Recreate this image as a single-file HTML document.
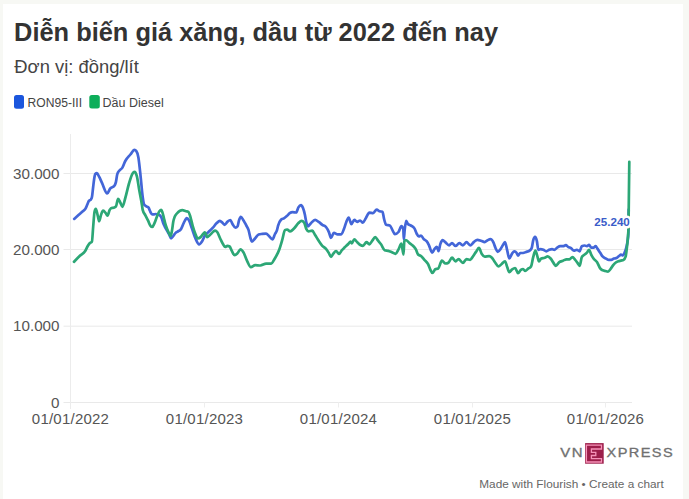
<!DOCTYPE html>
<html><head><meta charset="utf-8"><title>Diễn biến giá xăng, dầu từ 2022 đến nay</title>
<style>
html,body{margin:0;padding:0;background:#f7f8f4;}
body{width:689px;height:499px;overflow:hidden;position:relative;}
.card{position:absolute;left:3px;top:4px;width:680px;height:495px;background:#fff;}
svg{position:absolute;left:0;top:0;}
text{font-family:'Liberation Sans', sans-serif;}
.ax{font-size:15.2px;fill:#555;}
.xa{font-size:15px;letter-spacing:0.22px;fill:#555;}
</style></head><body>
<div class="card"></div>
<svg width="689" height="499" viewBox="0 0 689 499">
<text x="14.1" y="40.9" font-size="25.4" font-weight="bold" fill="#333">Diễn biến giá xăng, dầu từ 2022 đến nay</text>
<text x="14.3" y="72.8" font-size="18.4" fill="#444">Đơn vị: đồng/lít</text>
<rect x="14" y="95.1" width="10" height="13.7" rx="2.5" fill="#1b56dd"/>
<text x="27.6" y="106.6" font-size="12.1" fill="#444">RON95-III</text>
<rect x="89.3" y="95.1" width="10.5" height="13.5" rx="2.5" fill="#0dae5a"/>
<text x="102.6" y="106.6" font-size="12.5" fill="#444">Dầu Diesel</text>
<line x1="63.5" y1="173.5" x2="632" y2="173.5" stroke="#e9e9e9" stroke-width="1"/><line x1="63.5" y1="249.5" x2="632" y2="249.5" stroke="#e9e9e9" stroke-width="1"/><line x1="63.5" y1="326.2" x2="632" y2="326.2" stroke="#e9e9e9" stroke-width="1"/><line x1="63.5" y1="402.5" x2="632" y2="402.5" stroke="#e9e9e9" stroke-width="1"/><line x1="70.5" y1="134" x2="70.5" y2="409" stroke="#ececec" stroke-width="1"/><line x1="204.5" y1="402.5" x2="204.5" y2="407.5" stroke="#eeeeee" stroke-width="1"/><line x1="338.5" y1="402.5" x2="338.5" y2="407.5" stroke="#eeeeee" stroke-width="1"/><line x1="472.5" y1="402.5" x2="472.5" y2="407.5" stroke="#eeeeee" stroke-width="1"/><line x1="605.5" y1="402.5" x2="605.5" y2="407.5" stroke="#eeeeee" stroke-width="1"/>
<text x="59.5" y="178.7" text-anchor="end" class="ax">30.000</text><text x="59.5" y="254.7" text-anchor="end" class="ax">20.000</text><text x="59.5" y="331.4" text-anchor="end" class="ax">10.000</text><text x="59.5" y="407.7" text-anchor="end" class="ax">0</text>
<text x="70.5" y="423.9" text-anchor="middle" class="xa">01/01/2022</text><text x="204.5" y="423.9" text-anchor="middle" class="xa">01/01/2023</text><text x="338.5" y="423.9" text-anchor="middle" class="xa">01/01/2024</text><text x="472.5" y="423.9" text-anchor="middle" class="xa">01/01/2025</text><text x="605.5" y="423.9" text-anchor="middle" class="xa">01/01/2026</text>
<path d="M74.2,218.9C75.63,217.63 77.07,216.37 78.5,215.1C79.93,213.83 81.37,212.67 82.8,211.3C83.70,210.44 84.60,210.18 85.5,208.6C86.07,207.60 86.63,206.11 87.2,204.8C87.73,203.57 88.27,201.81 88.8,201C89.50,199.93 90.20,200.47 90.9,199.4C91.27,198.84 91.63,198.50 92,196.7C92.37,194.90 92.73,190.48 93.1,187.5C93.47,184.52 93.83,181.05 94.2,178.8C94.57,176.55 94.93,174.37 95.3,174C95.83,173.47 96.37,173.20 96.9,173.2C97.63,173.20 98.37,175.35 99.1,176.7C100.10,178.53 101.10,181.09 102.1,183.2C103.80,186.79 105.50,193.50 107.2,193.5C108.17,193.50 109.13,189.84 110.1,188.6C111.53,186.76 112.97,187.63 114.4,185.7C114.90,185.03 115.40,184.16 115.9,182.1C116.37,180.18 116.83,175.63 117.3,174.1C118.03,171.70 118.77,171.50 119.5,170.5C120.47,169.18 121.43,169.18 122.4,167.6C123.37,166.02 124.33,162.85 125.3,161C127.00,157.75 128.70,156.55 130.4,154.5C131.77,152.86 133.13,149.80 134.5,149.8C135.07,149.80 135.63,150.17 136.2,150.9C136.93,151.85 137.67,153.17 138.4,157.4C139.13,161.63 139.87,169.52 140.6,176.3C141.30,182.77 142.00,191.99 142.7,197C143.17,200.34 143.63,203.74 144.1,204.5C144.83,205.70 145.57,205.78 146.3,206.3C147.07,206.85 147.83,206.77 148.6,207.7C149.03,208.23 149.47,209.88 149.9,210.8C150.50,212.08 151.10,213.73 151.7,214C152.30,214.27 152.90,214.40 153.5,214.4C154.27,214.40 155.03,214.00 155.8,214C156.53,214.00 157.27,214.14 158,214.4C158.60,214.61 159.20,214.70 159.8,215.3C160.40,215.90 161.00,216.52 161.6,218C162.07,219.15 162.53,221.19 163,222.5C163.60,224.18 164.20,225.36 164.8,226.6C165.53,228.12 166.27,229.28 167,230.6C167.77,231.98 168.53,233.24 169.3,234.7C169.90,235.84 170.50,238.30 171.1,238.3C171.83,238.30 172.57,236.88 173.3,236C174.07,235.09 174.83,233.65 175.6,232.9C176.33,232.18 177.07,231.95 177.8,231.5C178.53,231.05 179.27,230.89 180,230.2C180.33,229.89 180.67,229.56 181,229.1C181.97,227.75 182.93,224.42 183.9,222.6C184.87,220.78 185.83,218.20 186.8,218.2C187.53,218.20 188.27,219.11 189,220.4C189.97,222.10 190.93,225.71 191.9,228.4C193.10,231.74 194.30,235.85 195.5,238.5C196.70,241.15 197.90,244.30 199.1,244.3C200.07,244.30 201.03,242.85 202,241.4C202.97,239.95 203.93,237.10 204.9,235.6C206.10,233.74 207.30,233.19 208.5,232C209.97,230.55 211.43,229.33 212.9,227.7C214.10,226.37 215.30,224.47 216.5,223.3C217.63,222.20 218.77,220.80 219.9,220.8C220.70,220.80 221.50,221.90 222.3,222.6C223.03,223.25 223.77,224.80 224.5,224.8C225.47,224.80 226.43,222.70 227.4,221.9C228.37,221.10 229.33,220.00 230.3,220C231.03,220.00 231.77,222.84 232.5,224C233.47,225.53 234.43,227.70 235.4,227.7C236.13,227.70 236.87,227.20 237.6,226.2C238.07,225.56 238.53,221.90 239,220.4C239.60,218.48 240.20,216.80 240.8,216.8C241.67,216.80 242.53,218.85 243.4,220.2C244.37,221.70 245.33,223.66 246.3,225.5C247.03,226.89 247.77,227.55 248.5,229.8C249.20,231.95 249.90,236.33 250.6,238.5C251.03,239.85 251.47,241.70 251.9,241.7C252.93,241.70 253.97,239.60 255,238.5C256.20,237.22 257.40,234.90 258.6,234.5C259.80,234.10 261.00,234.05 262.2,233.9C263.50,233.74 264.80,233.60 266.1,233.6C267.07,233.60 268.03,235.14 269,236C270.17,237.04 271.33,239.40 272.5,239.4C273.33,239.40 274.17,235.68 275,234C275.67,232.66 276.33,232.45 277,230.2C277.37,228.96 277.73,226.91 278.1,225.6C279.07,222.14 280.03,220.80 281,219.8C281.97,218.80 282.93,218.92 283.9,218.3C284.87,217.68 285.83,216.95 286.8,216.1C287.77,215.25 288.73,213.87 289.7,213.2C290.67,212.53 291.63,212.10 292.6,212.1C293.80,212.10 295.00,212.50 296.2,212.5C296.93,212.50 297.67,208.61 298.4,207.4C299.27,205.98 300.13,205.20 301,205.2C301.67,205.20 302.33,206.44 303,208.1C303.63,209.68 304.27,211.84 304.9,214.7C305.40,216.96 305.90,220.75 306.4,222.7C306.87,224.52 307.33,226.30 307.8,226.3C308.77,226.30 309.73,224.30 310.7,223.4C312.17,222.04 313.63,219.80 315.1,219.8C316.30,219.80 317.50,221.07 318.7,221.9C319.90,222.73 321.10,223.96 322.3,224.8C323.53,225.67 324.77,225.53 326,227C326.97,228.15 327.93,229.84 328.9,232.1C329.60,233.74 330.30,237.90 331,237.9C331.97,237.90 332.93,232.80 333.9,232.8C335.13,232.80 336.37,234.30 337.6,234.3C338.80,234.30 340.00,234.30 341.2,234.3C342.17,234.30 343.13,230.98 344.1,228.5C344.83,226.62 345.57,223.68 346.3,221.9C347.10,219.96 347.90,217.60 348.7,217.6C349.60,217.60 350.50,224.10 351.4,224.1C352.37,224.10 353.33,219.80 354.3,219.8C355.27,219.80 356.23,221.90 357.2,221.9C358.17,221.90 359.13,220.50 360.1,220.5C361.03,220.50 361.97,222.60 362.9,222.6C363.87,222.60 364.83,219.67 365.8,218.2C367.00,216.37 368.20,212.70 369.4,212.7C370.63,212.70 371.87,213.10 373.1,213.1C374.30,213.10 375.50,209.50 376.7,209.5C377.67,209.50 378.63,211.03 379.6,211.3C380.57,211.57 381.53,211.43 382.5,211.7C382.97,211.83 383.43,216.33 383.9,218.2C384.63,221.14 385.37,224.52 386.1,224.8C387.33,225.27 388.57,225.03 389.8,225.5C390.77,225.87 391.73,228.92 392.7,230.6C393.40,231.81 394.10,234.20 394.8,234.2C396.03,234.20 397.27,233.47 398.5,232C399.47,230.85 400.43,226.20 401.4,226.2C402.03,226.20 402.67,227.17 403.3,229.1C403.47,229.61 403.63,239.30 403.8,239.3C404.10,239.30 404.40,232.45 404.7,229.8C405.20,225.38 405.70,220.80 406.2,220.8C406.77,220.80 407.33,223.41 407.9,224C408.87,225.00 409.83,224.88 410.8,225.5C412.00,226.28 413.20,226.47 414.4,228.4C415.13,229.58 415.87,232.17 416.6,233.5C417.33,234.83 418.07,236.40 418.8,236.4C419.53,236.40 420.27,235.60 421,235.6C421.97,235.60 422.93,238.33 423.9,239.3C424.87,240.27 425.83,240.12 426.8,241.4C427.50,242.33 428.20,243.71 428.9,245.1C429.97,247.23 431.03,252.60 432.1,252.6C432.93,252.60 433.77,249.90 434.6,248.9C435.33,248.02 436.07,246.80 436.8,246.8C437.37,246.80 437.93,251.10 438.5,251.1C439.13,251.10 439.77,245.68 440.4,243.9C441.13,241.84 441.87,240.20 442.6,240.2C443.57,240.20 444.53,241.65 445.5,242.4C446.70,243.34 447.90,245.30 449.1,245.3C450.07,245.30 451.03,243.10 452,243.1C453.20,243.10 454.40,246.00 455.6,246C456.83,246.00 458.07,243.10 459.3,243.1C460.50,243.10 461.70,245.30 462.9,245.3C464.10,245.30 465.30,242.10 466.5,242.1C467.73,242.10 468.97,245.30 470.2,245.3C471.40,245.30 472.60,243.02 473.8,242.1C475.00,241.18 476.20,239.80 477.4,239.8C478.60,239.80 479.80,240.32 481,240.7C482.23,241.09 483.47,242.10 484.7,242.1C485.67,242.10 486.63,240.68 487.6,240.2C488.57,239.72 489.53,239.20 490.5,239.2C491.47,239.20 492.43,240.49 493.4,242.4C494.13,243.85 494.87,246.59 495.6,248.2C496.30,249.73 497.00,251.90 497.7,251.9C498.67,251.90 499.63,250.34 500.6,249C501.33,247.98 502.07,246.45 502.8,245.3C503.53,244.15 504.27,242.10 505,242.1C505.73,242.10 506.47,247.62 507.2,250.4C507.90,253.05 508.60,258.40 509.3,258.4C510.27,258.40 511.23,254.53 512.2,253.3C512.93,252.36 513.67,251.30 514.4,251.3C515.10,251.30 515.80,251.77 516.5,252.7C517.00,253.37 517.50,255.60 518,255.6C518.73,255.60 519.47,253.00 520.2,253C521.17,253.00 522.13,253.00 523.1,253C524.07,253.00 525.03,252.35 526,252C527.20,251.56 528.40,251.53 529.6,250.6C530.33,250.03 531.07,249.63 531.8,247.7C532.27,246.47 532.73,242.18 533.2,240.4C533.80,238.12 534.40,236.80 535,236.8C535.63,236.80 536.27,238.23 536.9,241.1C537.37,243.21 537.83,249.80 538.3,249.8C539.03,249.80 539.77,249.10 540.5,249.1C541.47,249.10 542.43,249.43 543.4,249.8C544.37,250.17 545.33,251.30 546.3,251.3C547.27,251.30 548.23,250.17 549.2,249.8C550.17,249.43 551.13,249.10 552.1,249.1C552.83,249.10 553.57,249.80 554.3,249.8C555.27,249.80 556.23,248.30 557.2,247.7C558.17,247.10 559.13,246.20 560.1,246.2C561.07,246.20 562.03,246.20 563,246.2C563.97,246.20 564.93,245.20 565.9,245.2C566.63,245.20 567.37,246.45 568.1,246.9C569.07,247.50 570.03,247.48 571,248.1C571.97,248.72 572.93,250.60 573.9,250.6C574.87,250.60 575.83,249.80 576.8,249.8C577.77,249.80 578.73,251.30 579.7,251.3C580.40,251.30 581.10,246.54 581.8,246.2C582.77,245.73 583.73,245.50 584.7,245.5C585.43,245.50 586.17,246.20 586.9,246.2C587.63,246.20 588.37,244.80 589.1,244.8C589.83,244.80 590.57,247.70 591.3,247.7C592.03,247.70 592.77,247.70 593.5,247.7C594.20,247.70 594.90,246.20 595.6,246.2C596.27,246.20 596.93,247.96 597.6,248.9C598.47,250.13 599.33,251.50 600.2,252.8C601.07,254.10 601.93,255.75 602.8,256.7C603.90,257.90 605.00,258.01 606.1,258.6C606.97,259.06 607.83,259.90 608.7,259.9C609.57,259.90 610.43,259.90 611.3,259.9C612.17,259.90 613.03,258.92 613.9,258.6C614.77,258.28 615.63,258.40 616.5,258C617.37,257.60 618.23,256.62 619.1,256C619.73,255.54 620.37,254.70 621,254.7C621.67,254.70 622.33,255.40 623,255.4C623.43,255.40 623.87,254.30 624.3,253.4C624.97,252.02 625.63,250.41 626.3,247.6C626.73,245.77 627.17,244.39 627.6,241C627.83,239.18 628.07,238.83 628.3,234.5C628.43,232.02 628.57,220.81 628.7,209.6" fill="none" stroke="#4366d8" stroke-width="2.7" stroke-linejoin="round" stroke-linecap="round"/>
<path d="M74,261.8C75.97,259.74 77.93,257.68 79.9,255.8C81.67,254.11 83.43,253.84 85.2,251C86.10,249.55 87.00,247.15 87.9,245.7C88.57,244.63 89.23,243.67 89.9,243C90.57,242.33 91.23,242.57 91.9,241.7C92.33,241.14 92.77,231.47 93.2,226.5C93.63,221.53 94.07,213.97 94.5,211.9C94.93,209.83 95.37,208.80 95.8,208.8C96.47,208.80 97.13,213.44 97.8,215.9C98.27,217.62 98.73,221.20 99.2,221.2C99.83,221.20 100.47,216.35 101.1,214.6C101.77,212.76 102.43,210.60 103.1,210.6C104.00,210.60 104.90,212.09 105.8,213.2C106.37,213.90 106.93,215.60 107.5,215.6C108.23,215.60 108.97,211.18 109.7,209.9C110.47,208.57 111.23,207.90 112,207.9C112.33,207.90 112.67,207.90 113,207.9C113.97,207.90 114.93,207.43 115.9,206.5C116.63,205.79 117.37,198.80 118.1,198.8C118.90,198.80 119.70,201.49 120.5,203C121.13,204.20 121.77,206.80 122.4,206.8C123.37,206.80 124.33,201.31 125.3,198C126.53,193.78 127.77,187.64 129,183.5C130.20,179.47 131.40,175.18 132.6,173.4C133.23,172.46 133.87,171.90 134.5,171.9C135.30,171.90 136.10,173.37 136.9,176.3C137.63,178.99 138.37,185.09 139.1,189.3C140.07,194.85 141.03,199.15 142,205.3C142.23,206.79 142.47,208.97 142.7,209.9C143.60,213.50 144.50,213.50 145.4,215.3C146.30,217.10 147.20,218.82 148.1,220.7C148.87,222.31 149.63,224.66 150.4,225.7C151.00,226.52 151.60,227.00 152.2,227C152.93,227.00 153.67,224.94 154.4,223.4C155.30,221.51 156.20,218.34 157.1,216.2C157.87,214.38 158.63,212.35 159.4,211.3C160.00,210.48 160.60,209.90 161.2,209.9C161.63,209.90 162.07,211.33 162.5,212.6C162.97,213.97 163.43,216.13 163.9,218C164.33,219.74 164.77,221.81 165.2,223.4C165.80,225.60 166.40,227.22 167,228.8C167.77,230.82 168.53,232.37 169.3,233.8C169.73,234.61 170.17,236.00 170.6,236C171.07,236.00 171.53,233.14 172,230.6C172.43,228.24 172.87,223.89 173.3,221.6C173.77,219.14 174.23,217.96 174.7,216.7C175.43,214.72 176.17,214.39 176.9,213.5C177.93,212.25 178.97,211.32 180,210.8C180.80,210.40 181.60,210.20 182.4,210.2C183.60,210.20 184.80,211.03 186,211.3C186.73,211.47 187.47,211.43 188.2,211.7C188.93,211.97 189.67,214.50 190.4,216.8C191.13,219.10 191.87,222.90 192.6,225.5C193.57,228.92 194.53,231.87 195.5,234.2C196.23,235.96 196.97,238.50 197.7,238.5C198.67,238.50 199.63,237.93 200.6,237.1C201.57,236.27 202.53,234.40 203.5,233.5C203.97,233.06 204.43,232.40 204.9,232.4C205.63,232.40 206.37,237.10 207.1,237.1C208.07,237.10 209.03,235.75 210,234.9C210.97,234.05 211.93,232.77 212.9,232C213.63,231.42 214.37,230.60 215.1,230.6C215.80,230.60 216.50,231.10 217.2,232C218.20,233.28 219.20,236.42 220.2,238.5C221.17,240.51 222.13,242.77 223.1,244.3C223.80,245.41 224.50,247.00 225.2,247C225.93,247.00 226.67,245.80 227.4,245.8C228.13,245.80 228.87,246.03 229.6,246.5C230.33,246.97 231.07,249.60 231.8,250.9C232.77,252.62 233.73,255.20 234.7,255.2C235.67,255.20 236.63,254.07 237.6,253.1C238.57,252.13 239.53,249.40 240.5,249.4C241.47,249.40 242.43,250.78 243.4,252.3C244.70,254.34 246.00,258.85 247.3,261.4C248.50,263.75 249.70,267.20 250.9,267.2C252.33,267.20 253.77,265.10 255.2,265.1C256.90,265.10 258.60,265.50 260.3,265.5C262.23,265.50 264.17,263.60 266.1,263.6C267.80,263.60 269.50,263.60 271.2,263.6C272.40,263.60 273.60,260.50 274.8,258.5C276.27,256.05 277.73,253.82 279.2,249.8C280.17,247.15 281.13,243.67 282.1,240.4C283.07,237.13 284.03,230.82 285,230.2C285.73,229.73 286.47,229.50 287.2,229.5C288.17,229.50 289.13,231.40 290.1,231.4C291.40,231.40 292.70,229.76 294,228.5C295.47,227.08 296.93,224.48 298.4,223.1C299.43,222.13 300.47,220.80 301.5,220.8C302.40,220.80 303.30,221.43 304.2,222.7C304.93,223.73 305.67,227.75 306.4,229.2C307.10,230.59 307.80,231.40 308.5,231.4C309.73,231.40 310.97,230.60 312.2,230.6C313.17,230.60 314.13,233.49 315.1,235C316.30,236.87 317.50,238.98 318.7,240.8C319.90,242.62 321.10,244.57 322.3,245.9C323.53,247.26 324.77,247.35 326,248.8C326.97,249.94 327.93,251.51 328.9,253.1C329.60,254.25 330.30,256.80 331,256.8C331.73,256.80 332.47,254.77 333.2,253.9C334.17,252.76 335.13,251.00 336.1,251C337.07,251.00 338.03,253.90 339,253.9C339.97,253.90 340.93,251.30 341.9,250.2C342.87,249.10 343.83,248.26 344.8,247.3C346.03,246.08 347.27,244.96 348.5,243.7C349.20,242.99 349.90,241.50 350.6,241.5C351.00,241.50 351.40,243.40 351.8,243.4C352.63,243.40 353.47,239.30 354.3,239.3C355.27,239.30 356.23,241.29 357.2,242.2C358.27,243.20 359.33,244.40 360.4,245C361.23,245.47 362.07,245.80 362.9,245.8C364.10,245.80 365.30,242.20 366.5,242.2C367.47,242.20 368.43,244.30 369.4,244.3C370.37,244.30 371.33,241.90 372.3,240.7C373.27,239.50 374.23,237.10 375.2,237.1C376.17,237.10 377.13,239.50 378.1,240.7C379.07,241.90 380.03,242.95 381,244.3C382.23,246.02 383.47,249.72 384.7,250.2C385.90,250.67 387.10,250.55 388.3,250.9C389.50,251.25 390.70,251.82 391.9,252.3C393.13,252.79 394.37,253.80 395.6,253.8C396.57,253.80 397.53,251.10 398.5,249.4C399.47,247.70 400.43,243.60 401.4,243.6C402.10,243.60 402.80,254.50 403.5,254.5C403.77,254.50 404.03,241.93 404.3,241.4C404.77,240.47 405.23,240.00 405.7,240C406.90,240.00 408.10,241.95 409.3,242.9C410.53,243.88 411.77,244.52 413,245.8C413.97,246.81 414.93,247.61 415.9,249.4C416.63,250.76 417.37,253.74 418.1,254.5C419.07,255.50 420.03,255.23 421,256C422.13,256.90 423.27,258.49 424.4,259.8C425.63,261.22 426.87,261.76 428.1,264.2C428.80,265.59 429.50,267.87 430.2,269.3C430.93,270.80 431.67,272.90 432.4,272.9C433.37,272.90 434.33,269.83 435.3,269.3C436.27,268.77 437.23,269.03 438.2,268.5C439.43,267.82 440.67,260.60 441.9,260.6C443.10,260.60 444.30,263.50 445.5,263.5C446.47,263.50 447.43,263.23 448.4,262.7C449.60,262.04 450.80,257.70 452,257.7C453.20,257.70 454.40,261.30 455.6,261.3C456.57,261.30 457.53,259.10 458.5,259.1C459.97,259.10 461.43,263.00 462.9,263C464.10,263.00 465.30,259.10 466.5,259.1C467.73,259.10 468.97,259.80 470.2,259.8C471.17,259.80 472.13,257.52 473.1,256.2C474.07,254.88 475.03,253.28 476,251.9C476.97,250.52 477.93,247.90 478.9,247.9C479.87,247.90 480.83,252.55 481.8,254C482.77,255.45 483.73,256.60 484.7,256.6C486.13,256.60 487.57,256.20 489,256.2C489.97,256.20 490.93,256.73 491.9,257.7C492.87,258.67 493.83,260.69 494.8,262C496.03,263.67 497.27,266.40 498.5,266.4C499.47,266.40 500.43,264.95 501.4,264.2C502.60,263.26 503.80,261.30 505,261.3C505.73,261.30 506.47,265.24 507.2,267.1C507.90,268.87 508.60,272.20 509.3,272.2C510.27,272.20 511.23,270.00 512.2,269.3C513.17,268.60 514.13,268.00 515.1,268C516.07,268.00 517.03,273.10 518,273.1C518.97,273.10 519.93,270.58 520.9,269.9C521.63,269.38 522.37,269.00 523.1,269C523.80,269.00 524.50,270.90 525.2,270.9C526.17,270.90 527.13,269.43 528.1,268.7C529.07,267.97 530.03,267.97 531,266.5C531.73,265.39 532.47,259.75 533.2,257.1C533.93,254.45 534.67,250.60 535.4,250.6C536.13,250.60 536.87,254.88 537.6,257.1C538.07,258.51 538.53,261.40 539,261.4C539.73,261.40 540.47,258.79 541.2,258.5C542.40,258.03 543.60,258.22 544.8,257.8C545.77,257.46 546.73,256.40 547.7,256.4C548.67,256.40 549.63,257.42 550.6,258.5C551.57,259.58 552.53,261.54 553.5,262.9C554.23,263.93 554.97,265.80 555.7,265.8C556.90,265.80 558.10,263.05 559.3,262.2C560.53,261.33 561.77,261.19 563,260.7C564.20,260.22 565.40,259.30 566.6,259.3C567.57,259.30 568.53,259.30 569.5,259.3C570.47,259.30 571.43,257.10 572.4,257.1C573.37,257.10 574.33,258.86 575.3,260C576.03,260.87 576.77,261.93 577.5,262.9C578.23,263.87 578.97,265.80 579.7,265.8C580.40,265.80 581.10,258.36 581.8,257.1C582.77,255.37 583.73,255.32 584.7,254.5C585.43,253.88 586.17,253.48 586.9,252.7C587.63,251.92 588.37,249.80 589.1,249.8C589.83,249.80 590.57,253.45 591.3,254.9C592.03,256.35 592.77,257.47 593.5,258.5C594.70,260.19 595.90,260.34 597.1,262.2C598.13,263.80 599.17,267.05 600.2,268.4C601.07,269.54 601.93,269.87 602.8,270.3C603.67,270.73 604.53,270.78 605.4,271C606.27,271.22 607.13,271.60 608,271.6C608.87,271.60 609.73,270.08 610.6,269C611.47,267.92 612.33,266.18 613.2,265.1C614.07,264.02 614.93,263.15 615.8,262.5C616.67,261.85 617.53,261.52 618.4,261.2C619.27,260.88 620.13,260.82 621,260.6C621.87,260.38 622.73,260.37 623.6,259.9C624.27,259.54 624.93,258.83 625.6,256.7C626.03,255.31 626.47,251.46 626.9,247.6C627.20,244.93 627.50,242.25 627.8,238.4C628.03,235.41 628.27,234.93 628.5,228C628.77,220.08 629.03,190.94 629.3,161.8" fill="none" stroke="#2ca776" stroke-width="2.7" stroke-linejoin="round" stroke-linecap="round"/>
<text x="629.8" y="225.8" text-anchor="end" font-size="11.6" font-weight="bold" fill="#3a5cc9" stroke="#fff" stroke-width="5" paint-order="stroke" stroke-linejoin="round">25.240</text>
<g>
<text x="560.3" y="457.4" font-size="12" fill="#707070" stroke="#707070" stroke-width="0.3" textLength="23.8" lengthAdjust="spacingAndGlyphs" letter-spacing="1.2">VN</text>
<rect x="585.1" y="443.1" width="18.6" height="20.6" fill="#9c1e4a"/>
<path d="M586.4 445.1 H601.5 V449 H591.4 V452.3 H595.8 V455.5 H591.4 V458.6 H601.5 V462 H586.4 Z" fill="#9c1e4a" stroke="#f593b8" stroke-width="1.3"/>
<text x="606.5" y="457.4" font-size="12" fill="#707070" stroke="#707070" stroke-width="0.3" textLength="67.6" lengthAdjust="spacingAndGlyphs" letter-spacing="1.2">XPRESS</text>
</g>
<text x="479.3" y="487.5" font-size="11.8" fill="#666">Made with Flourish • Create a chart</text>
</svg>
</body></html>
